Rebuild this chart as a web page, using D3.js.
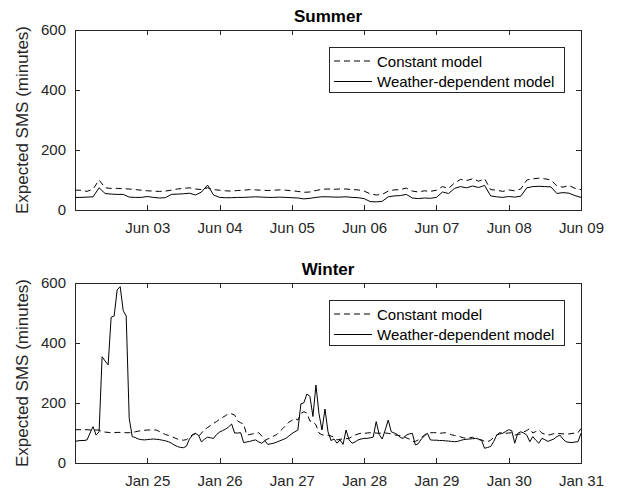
<!DOCTYPE html>
<html>
<head>
<meta charset="utf-8">
<script src="https://cdn.jsdelivr.net/npm/d3@7"></script>
<style>
  body { margin: 0; background: #fff; }
  text { font-family: "Liberation Sans", Arial, sans-serif; }
</style>
</head>
<body>
<div id="chart"></div>
<script>
// Summer week, one value every 2 hours (Jun 02 00:00 .. Jun 09 00:00)
var summerStep = 2;
var summerConstant = [
  66, 66, 62, 70, 100, 74, 72, 72, 71, 70,
  68, 66, 64, 63, 62, 63, 66, 70, 72, 74,
  70, 68, 74, 68, 66, 64, 63, 65, 66, 68,
  67, 66, 65, 66, 67, 66, 64, 62, 59, 60,
  65, 69, 70, 69, 70, 70, 68, 67, 63, 54,
  50, 52, 63, 67, 68, 73, 63, 60, 64, 62,
  66, 78, 72, 90, 102, 98, 104, 96, 104, 68,
  66, 62, 67, 64, 70, 100, 104, 106, 104, 100,
  80, 76, 82, 72, 68
];
var summerWeather = [
  42, 42, 43, 44, 74, 55, 53, 52, 52, 43,
  42, 42, 45, 42, 40, 41, 52, 53, 54, 56,
  50, 60, 83, 50, 42, 41, 41, 42, 42, 43,
  44, 43, 42, 42, 43, 42, 41, 40, 37, 39,
  42, 44, 44, 43, 43, 44, 42, 41, 38, 28,
  27, 29, 44, 47, 48, 52, 40, 38, 40, 39,
  42, 60, 55, 72, 78, 74, 80, 75, 82, 47,
  44, 42, 45, 43, 46, 74, 78, 79, 78, 77,
  55, 58, 56, 48, 42
];

// Winter week, hourly (Jan 24 00:00 .. Jan 31 00:00)
var winterStep = 1;
var winterConstant = [
  111, 111, 111, 111, 111, 110, 110, 110, 110, 104, 103, 102,
  101, 101, 102, 102, 101, 101, 101, 102, 104, 106, 108, 109,
  110, 110, 110, 110, 105, 100, 95, 92, 88, 84, 80, 77,
  76, 78, 85, 95, 98, 89, 100, 112, 118, 125, 132, 138,
  146, 152, 158, 165, 164, 160, 140, 134, 130, 93, 95, 97,
  99, 101, 90, 75, 80, 85, 90, 95, 105, 115, 125, 136,
  142, 149, 143, 165, 171, 166, 140, 138, 127, 100, 94, 93,
  93, 90, 86, 77, 79, 80, 81, 82, 88, 93, 97, 99,
  99, 100, 101, 101, 100, 99, 100, 100, 99, 97, 94, 92,
  91, 90, 84, 80, 72, 72, 77, 85, 93, 100, 101, 101,
  101, 99, 100, 101, 98, 94, 92, 89, 87, 84, 82, 84,
  86, 79, 78, 77, 72, 71, 76, 85, 93, 97, 99, 99,
  100, 101, 93, 95, 97, 104, 108, 115, 100, 105, 110, 100,
  96, 93, 95, 98, 99, 98, 97, 97, 97, 98, 100, 101,
  115
];
var winterWeather = [
  72, 74, 75, 75, 77, 100, 121, 93, 104, 354, 340, 327,
  486, 490, 577, 588, 508, 490, 149, 88, 85, 80, 78, 77,
  78, 79, 80, 79, 78, 76, 74, 71, 66, 60, 55, 52,
  51, 56, 80, 92, 99, 92, 70, 80, 86, 84, 82, 95,
  103, 108, 113, 120, 130, 100, 100, 101, 68, 70, 72, 75,
  77, 70, 66, 74, 62, 64, 66, 70, 74, 78, 82, 90,
  98, 104, 110, 197, 201, 230, 222, 155, 260, 165, 110, 180,
  104, 75, 80, 66, 77, 62, 110, 77, 66, 70, 77, 80,
  82, 82, 84, 86, 138, 95, 80, 110, 143, 104, 100, 95,
  85, 82, 93, 97, 99, 60, 65, 80, 90, 99, 77, 76,
  76, 75, 75, 74, 73, 72, 71, 72, 75, 78, 79, 80,
  81, 82, 80, 75, 49, 52, 55, 71, 93, 101, 99, 105,
  111, 108, 66, 99, 104, 100, 93, 71, 88, 76, 66, 82,
  78, 72, 76, 80, 88, 93, 80, 71, 69, 68, 70, 71,
  99
];

var yTicks = [0, 200, 400, 600];
var legendLabels = ["Constant model", "Weather-dependent model"];

var axisColor = "#262626";
var svg = d3.select("#chart").append("svg")
            .attr("width", 620)
            .attr("height", 492);

var left = 75, right = 581, plotH = 180;

function drawPanel(title, start, step, constant, weather, top) {
    var end = d3.utcDay.offset(start, 7);
    var x = d3.scaleUtc().domain([start, end]).range([left, right]);
    var y = d3.scaleLinear().domain([0, 600]).range([top + plotH, top]);
    var days = d3.utcDays(d3.utcDay.offset(start, 1), d3.utcDay.offset(end, 1));
    var fmt = d3.utcFormat("%b %d");
    var g = svg.append("g");

    function styleAxis(sel) {
        sel.attr("color", axisColor)
           .attr("font-family", "Liberation Sans, Arial, sans-serif")
           .attr("font-size", 15);
        sel.select(".domain").attr("shape-rendering", "crispEdges");
        sel.selectAll(".tick line").attr("shape-rendering", "crispEdges");
    }

    g.append("g")
     .attr("transform", "translate(0," + (top + plotH) + ")")
     .call(d3.axisBottom(x).tickValues(days).tickFormat(fmt)
             .tickSizeInner(-5).tickSizeOuter(0).tickPadding(12))
     .call(styleAxis);
    g.append("g")
     .attr("transform", "translate(0," + top + ")")
     .call(d3.axisTop(x).tickValues(days).tickFormat("")
             .tickSizeInner(-5).tickSizeOuter(0))
     .call(styleAxis);
    g.append("g")
     .attr("transform", "translate(" + left + ",0)")
     .call(d3.axisLeft(y).tickValues(yTicks)
             .tickSizeInner(-5).tickSizeOuter(0).tickPadding(9))
     .call(styleAxis);
    g.append("g")
     .attr("transform", "translate(" + right + ",0)")
     .call(d3.axisRight(y).tickValues(yTicks).tickFormat("")
             .tickSizeInner(-5).tickSizeOuter(0))
     .call(styleAxis);

    var line = d3.line()
                 .x((d, i) => x(new Date(start.getTime() + i * step * 3600e3)))
                 .y(d => y(d));

    g.append("path")
     .datum(constant)
     .attr("fill", "none")
     .attr("stroke", "#000")
     .attr("stroke-width", 1)
     .attr("stroke-dasharray", "6,4")
     .attr("d", line);

    g.append("path")
     .datum(weather)
     .attr("fill", "none")
     .attr("stroke", "#000")
     .attr("stroke-width", 1)
     .attr("d", line);

    // title
    g.append("text")
     .attr("x", (left + right) / 2)
     .attr("y", top - 8)
     .attr("text-anchor", "middle")
     .attr("font-size", 17)
     .attr("font-weight", "bold")
     .attr("fill", "#000")
     .text(title);

    // y label
    g.append("text")
     .attr("transform", "translate(28," + (top + plotH / 2) + ") rotate(-90)")
     .attr("text-anchor", "middle")
     .attr("font-size", 17)
     .attr("fill", axisColor)
     .text("Expected SMS (minutes)");

    // legend
    var lg = g.append("g");
    lg.append("rect")
      .attr("x", 329.5).attr("y", top + 17.5)
      .attr("width", 235).attr("height", 45)
      .attr("fill", "#fff")
      .attr("stroke", axisColor)
      .attr("stroke-width", 1);
    legendLabels.forEach((label, i) => {
        var ly = top + 31 + i * 20.5;
        lg.append("line")
          .attr("x1", 334).attr("x2", 372)
          .attr("y1", ly).attr("y2", ly)
          .attr("stroke", "#000")
          .attr("stroke-width", 1)
          .attr("stroke-dasharray", i === 0 ? "6,4" : null);
        lg.append("text")
          .attr("x", 377)
          .attr("y", ly + 5.5)
          .attr("font-size", 15)
          .attr("fill", "#000")
          .text(label);
    });
}

drawPanel("Summer", new Date(Date.UTC(2014, 5, 2)), summerStep,
          summerConstant, summerWeather, 30);
drawPanel("Winter", new Date(Date.UTC(2014, 0, 24)), winterStep,
          winterConstant, winterWeather, 283);
</script>
</body>
</html>
